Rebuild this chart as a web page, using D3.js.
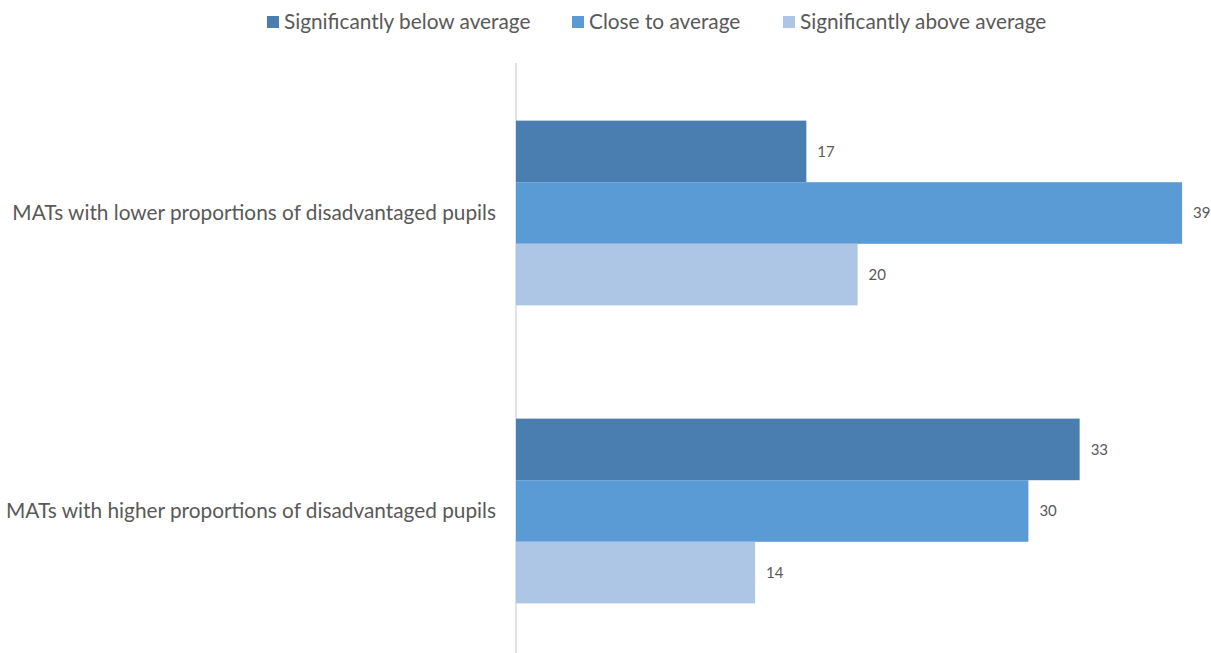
<!DOCTYPE html>
<html><head><meta charset="utf-8">
<script src="https://cdn.jsdelivr.net/npm/d3@7"></script>
<style>body{margin:0;background:#fff}svg{display:block}text{font-family:Lato,"Open Sans",sans-serif;fill:#595959}</style>
</head><body><svg id="c" width="1211" height="653"></svg>
<script>
const categories = ["MATs with lower proportions of disadvantaged pupils","MATs with higher proportions of disadvantaged pupils"];
const seriesNames = ["Significantly below average","Close to average","Significantly above average"];
const seriesColors = ["#4a7eb0","#5b9bd5","#adc6e5"];
const belowAvg = [17,33];
const closeAvg = [39,30];
const aboveAvg = [20,14];
const seriesValues = [belowAvg, closeAvg, aboveAvg];

const svg = d3.select("#c");
const x0 = 516;
const x = d3.scaleLinear().domain([0,39]).range([x0, x0 + 39*17.08]);
const y = d3.scaleBand().domain(categories).range([64,660]).paddingInner(0.38).paddingOuter(0.19);
const ys = d3.scaleBand().domain(d3.range(3)).range([0,y.bandwidth()]);

svg.append("line").attr("x1",x0).attr("x2",x0).attr("y1",63).attr("y2",653).attr("stroke","#d9d9d9").attr("stroke-width",1.5);

categories.forEach((c,ci)=>{
  seriesValues.forEach((vals,si)=>{
    const yy = y(c)+ys(si);
    svg.append("rect").attr("x",x(0)).attr("y",yy).attr("width",x(vals[ci])-x(0)).attr("height",ys.bandwidth()).attr("fill",seriesColors[si]);
    svg.append("text").attr("x",x(vals[ci])+11).attr("y",yy+ys.bandwidth()/2).attr("dy","0.35em").attr("font-size",15).text(vals[ci]);
  });
  svg.append("text").attr("x",496).attr("y",y(c)+y.bandwidth()/2).attr("dy","0.35em").attr("text-anchor","end").attr("font-size",20.8).text(c);
});

const legX = [267,572,783];
seriesNames.forEach((n,i)=>{
  svg.append("rect").attr("x",legX[i]).attr("y",16).attr("width",12).attr("height",12).attr("fill",seriesColors[i]);
  svg.append("text").attr("x",legX[i]+17).attr("y",22).attr("dy","0.35em").attr("font-size",20.8).text(n);
});
</script></body></html>
